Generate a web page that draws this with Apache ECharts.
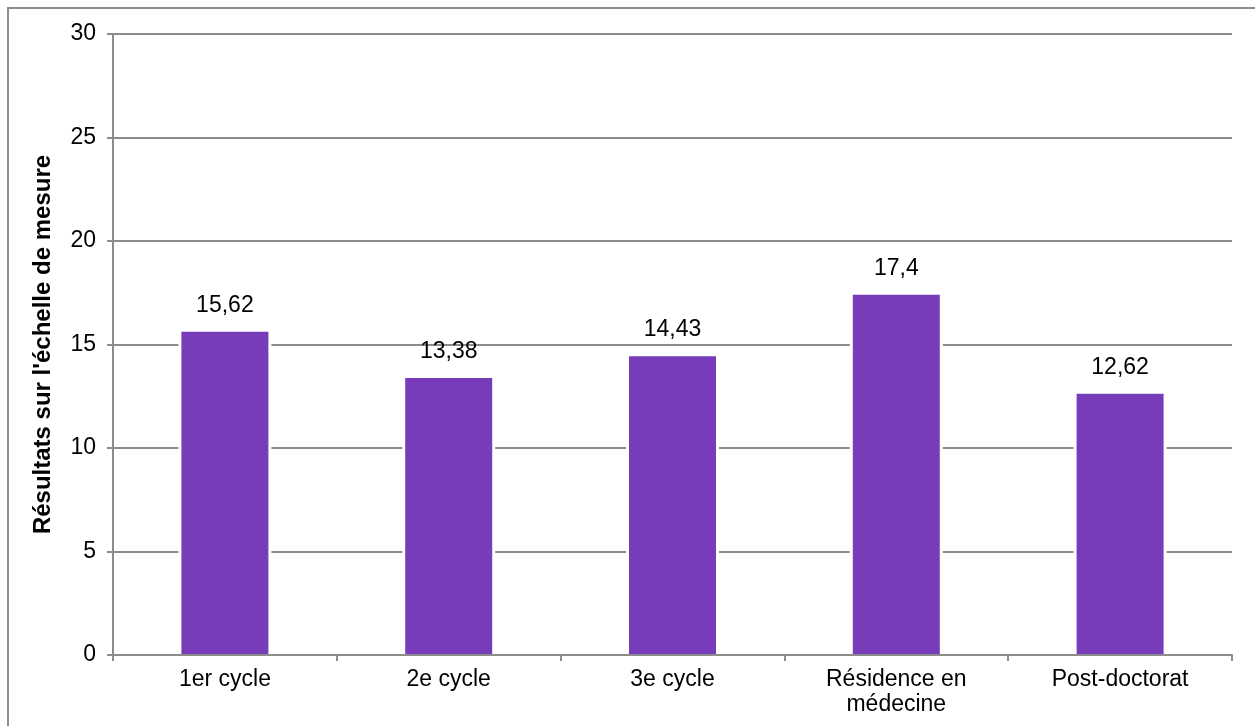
<!DOCTYPE html>
<html><head><meta charset="utf-8">
<script src="https://cdn.jsdelivr.net/npm/echarts@6/dist/echarts.min.js"></script>
<style>html,body{margin:0;padding:0;background:#fff}#c{width:1255px;height:726px}</style>
</head><body><div id="c"></div>
<script>
const categories = ['1er cycle', '2e cycle', '3e cycle', 'Résidence en\nmédecine', 'Post-doctorat'];
const values = [15.62, 13.38, 14.43, 17.4, 12.62];
const valueLabels = ['15,62', '13,38', '14,43', '17,4', '12,62'];
const yTitle = "Résultats sur l'échelle de mesure";

const chart = echarts.init(document.getElementById('c'), null, {renderer: 'canvas'});
const font = 'Liberation Sans, Arial, Helvetica, sans-serif';
const gridColor = '#8c8c8c';
chart.setOption({
  animation: false,
  graphic: [{type: 'rect', shape: {x: 8, y: 8, width: 1260, height: 740}, style: {fill: 'none', stroke: gridColor, lineWidth: 2}, silent: true}],
  grid: {left: 113, right: 23, top: 34, bottom: 71, containLabel: false},
  xAxis: [{
    type: 'category', data: categories, z: 10,
    axisLine: {lineStyle: {color: gridColor, width: 2}},
    axisTick: {show: true, length: 6, lineStyle: {color: gridColor, width: 2}},
    axisLabel: {color: '#000', fontSize: 23, fontFamily: font, margin: 12, lineHeight: 25, interval: 0}
  }, {
    type: 'category', data: categories, show: false
  }],
  yAxis: {
    type: 'value', min: 0, max: 30, interval: 5,
    name: yTitle, nameLocation: 'middle', nameGap: 58,
    nameTextStyle: {color: '#000', fontSize: 24, fontWeight: 'bold', fontFamily: font},
    axisLine: {show: true, lineStyle: {color: gridColor, width: 2}},
    axisTick: {show: true, length: 6, lineStyle: {color: gridColor, width: 2}},
    axisLabel: {color: '#000', fontSize: 23, fontFamily: font, margin: 17},
    splitLine: {lineStyle: {color: gridColor, width: 2}}
  },
  series: [{
    type: 'bar', xAxisIndex: 1, data: values, barWidth: 93, z: 1, silent: true,
    itemStyle: {color: '#fff'}
  }, {
    type: 'bar', xAxisIndex: 0, data: values, barWidth: 87, z: 2,
    itemStyle: {color: '#783cba'},
    label: {show: true, position: 'top', distance: 15, color: '#000', fontSize: 23, fontFamily: font,
      formatter: p => valueLabels[p.dataIndex]}
  }]
});
</script></body></html>
